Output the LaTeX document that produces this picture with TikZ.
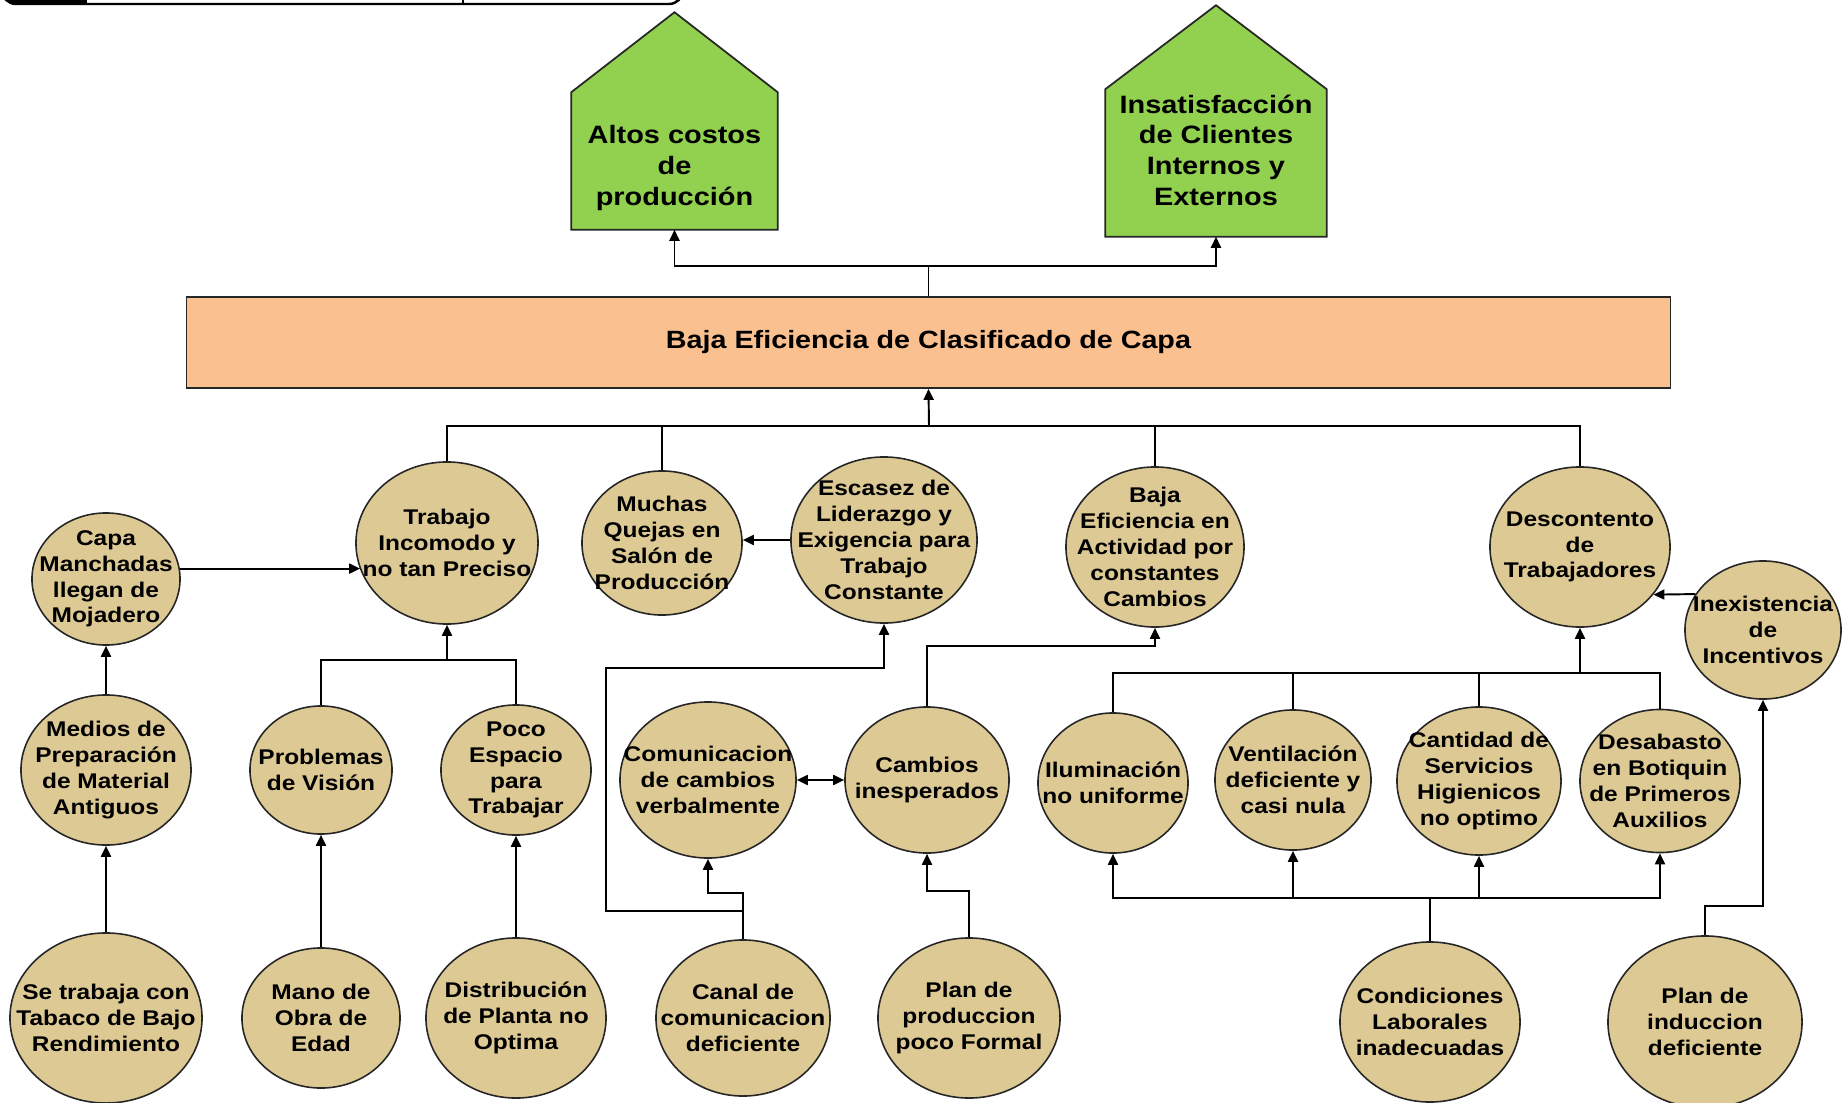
\documentclass[tikz,border=0pt]{standalone}
\usepackage{fontspec}
\newfontfamily\diagfont[FakeStretch=1.15]{Liberation Sans}
\usetikzlibrary{shapes.geometric, arrows.meta, calc, backgrounds}

\definecolor{tanfill}{RGB}{221,201,148}
\definecolor{effgreen}{RGB}{146,208,80}
\definecolor{peach}{RGB}{250,192,144}

\begin{document}
\begin{tikzpicture}[
    x=0.01cm, y=-0.01cm,
    cause/.style={ellipse, draw=black!85, fill=tanfill, line width=0.45pt, inner sep=-5mm, align=center,
        font=\diagfont\bfseries\fontsize{6.05}{7.35}\selectfont},
    effect/.style={rectangle, inner sep=0pt, align=center, font=\diagfont\bfseries\fontsize{7.15}{8.7}\selectfont},
    house/.style={draw=black!85, fill=effgreen, line width=0.5pt},
    mainbox/.style={rectangle, draw=black!85, fill=peach, line width=0.5pt, align=center,
        font=\diagfont\bfseries\fontsize{7.1}{8.7}\selectfont},
    conn/.style={line width=0.55pt},
    arrow/.style={conn, -{Triangle[length=1.1mm, width=1mm]}},
    dblarrow/.style={conn, {Triangle[length=1.1mm, width=1mm]}-{Triangle[length=1.1mm, width=1mm]}}
]
\useasboundingbox (0,0) rectangle (1844,1103);

\begin{scope}
\clip[rounded corners=1.4mm] (2,-40) rectangle (683,4);
\fill (0,-40) rectangle (86,4);
\end{scope}
\draw[line width=0.7pt, rounded corners=1.4mm] (2,-40) rectangle (683,4);
\draw[line width=0.7pt] (86,-40) -- (86,4) (463,-40) -- (463,4);

\node[effect, minimum width=2.05cm, minimum height=1.36cm, text height=26.6pt] (altos) at (674.5,161) {Altos costos\\de\\producción};
\node[effect, minimum width=2.20cm, minimum height=1.46cm, text depth=7.4pt] (insat) at (1216,163) {Insatisfacción\\de Clientes\\Internos y\\Externos};
\begin{scope}[on background layer]
\draw[house] (altos.south west) -- (altos.north west) -- ($(altos.north)+(0,-80)$) -- (altos.north east) -- (altos.south east) -- cycle;
\draw[house] (insat.south west) -- (insat.north west) -- ($(insat.north)+(0,-84)$) -- (insat.north east) -- (insat.south east) -- cycle;
\end{scope}

\node[mainbox, minimum width=14.83cm, minimum height=0.91cm] (baja) at (928.5,342.5) {Baja Eficiencia de Clasificado de Capa};

\node[cause, minimum width=1.82cm, minimum height=1.62cm] (trabajo) at (447,543) {Trabajo\\Incomodo y\\no tan Preciso};
\node[cause, minimum width=1.48cm, minimum height=1.32cm] (capa) at (106,579) {Capa\\Manchadas\\llegan de\\Mojadero};
\node[cause, minimum width=1.60cm, minimum height=1.44cm] (quejas) at (662,543) {Muchas\\Quejas en\\Salón de\\Producción};
\node[cause, minimum width=1.86cm, minimum height=1.66cm] (liderazgo) at (884,540) {Escasez de\\Liderazgo y\\Exigencia para\\Trabajo\\Constante};
\node[cause, minimum width=1.78cm, minimum height=1.60cm] (actividad) at (1155,547) {Baja\\Eficiencia en\\Actividad por\\constantes\\Cambios};
\node[cause, minimum width=1.80cm, minimum height=1.60cm] (descontento) at (1580,547) {Descontento\\de\\Trabajadores};
\node[cause, minimum width=1.56cm, minimum height=1.38cm] (incentivos) at (1763,630) {Inexistencia\\de\\Incentivos};

\node[cause, minimum width=1.70cm, minimum height=1.50cm] (medios) at (106,770) {Medios de\\Preparación\\de Material\\Antiguos};
\node[cause, minimum width=1.42cm, minimum height=1.28cm] (vision) at (321,770) {Problemas\\de Visión};
\node[cause, minimum width=1.50cm, minimum height=1.30cm] (espacio) at (516,770) {Poco\\Espacio\\para\\Trabajar};
\node[cause, minimum width=1.76cm, minimum height=1.56cm] (verbal) at (708,780) {Comunicacion\\de cambios\\verbalmente};
\node[cause, minimum width=1.64cm, minimum height=1.46cm] (cambios) at (927,780) {Cambios\\inesperados};
\node[cause, minimum width=1.50cm, minimum height=1.40cm] (iluminacion) at (1113,783) {Iluminación\\no uniforme};
\node[cause, minimum width=1.56cm, minimum height=1.40cm] (ventilacion) at (1293,780) {Ventilación\\deficiente y\\casi nula};
\node[cause, minimum width=1.64cm, minimum height=1.48cm] (higiene) at (1479,781) {Cantidad de\\Servicios\\Higienicos\\no optimo};
\node[cause, minimum width=1.60cm, minimum height=1.43cm] (botiquin) at (1660,781) {Desabasto\\en Botiquin\\de Primeros\\Auxilios};

\node[cause, minimum width=1.92cm, minimum height=1.70cm] (tabaco) at (106,1018) {Se trabaja con\\Tabaco de Bajo\\Rendimiento};
\node[cause, minimum width=1.58cm, minimum height=1.40cm] (edad) at (321,1018) {Mano de\\Obra de\\Edad};
\node[cause, minimum width=1.80cm, minimum height=1.60cm] (planta) at (516,1018) {Distribución\\de Planta no\\Optima};
\node[cause, minimum width=1.74cm, minimum height=1.56cm] (canal) at (743,1018) {Canal de\\comunicacion\\deficiente};
\node[cause, minimum width=1.82cm, minimum height=1.60cm] (plan) at (969,1018) {Plan de\\produccion\\poco Formal};
\node[cause, minimum width=1.80cm, minimum height=1.60cm] (condiciones) at (1430,1022) {Condiciones\\Laborales\\inadecuadas};
\node[cause, minimum width=1.94cm, minimum height=1.72cm] (induccion) at (1705,1022) {Plan de\\induccion\\deficiente};

\draw[arrow] (baja.north) -- ++(0,-30) -| (altos.south);
\draw[arrow] (baja.north) -- ++(0,-30) -| (insat.south);

\coordinate (causebus) at (929,426);
\draw[conn] (trabajo.north) |- (causebus);
\draw[conn] (descontento.north) |- (causebus);
\draw[conn] (quejas.north) -- (quejas.north |- causebus);
\draw[conn] (actividad.north) -- (actividad.north |- causebus);
\draw[arrow] (causebus) -- (baja.south);

\draw[arrow] (capa.8) -- (capa.8 -| trabajo.197);
\draw[arrow] (medios.north) -- (capa.south);
\draw[arrow] (tabaco.north) -- (medios.south);
\coordinate (visionbus) at (447,660);
\draw[conn] (vision.north) |- (visionbus);
\draw[conn] (espacio.north) |- (visionbus);
\draw[arrow] (visionbus) -- (trabajo.south);
\draw[arrow] (edad.north) -- (vision.south);
\draw[arrow] (planta.north) -- (espacio.south);

\draw[arrow] (liderazgo.west) -- (liderazgo.west -| quejas.east);
\coordinate (canalturn) at (606,668);
\draw[arrow] (canal.north) -- ++(0,-46) -| (verbal.south);
\draw[arrow] (canal.north) -- ++(0,-28) -| (canalturn) -| (liderazgo.south);
\draw[dblarrow] (verbal.east) -- (cambios.west);
\draw[arrow] (cambios.north) -- ++(0,-60) -| (actividad.south);
\draw[arrow] (plan.north) -- ++(0,-46) -| (cambios.south);

\coordinate (laboralbus) at (1580,673);
\draw[conn] (iluminacion.north) |- (laboralbus);
\draw[conn] (botiquin.north) |- (laboralbus);
\draw[conn] (ventilacion.north) -- (ventilacion.north |- laboralbus);
\draw[conn] (higiene.north) -- (higiene.north |- laboralbus);
\draw[arrow] (laboralbus) -- (descontento.south);
\draw[arrow] (incentivos.152) -- (descontento.-33);

\coordinate (condbus) at (1430,898);
\draw[conn] (condiciones.north) -- (condbus);
\foreach \n in {iluminacion, ventilacion, higiene, botiquin}
    \draw[arrow] (condbus) -| (\n.south);
\draw[arrow] (induccion.north) -- ++(0,-29) -| (incentivos.south);
\end{tikzpicture}
\end{document}
